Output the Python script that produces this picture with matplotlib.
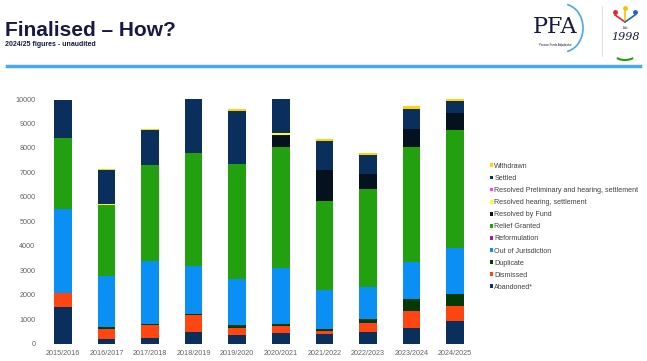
import matplotlib
matplotlib.use("Agg")
import matplotlib.pyplot as plt
import numpy as np
from matplotlib.patches import Arc

plt.rcParams['font.family'] = ['Liberation Sans', 'DejaVu Sans']

years = ["2015/2016", "2016/2017", "2017/2018", "2018/2019", "2019/2020",
         "2020/2021", "2021/2022", "2022/2023", "2023/2024", "2024/2025"]

abandoned   = [1490, 180, 250, 480, 340, 420, 380, 460, 650, 930]
dismissed   = [590, 440, 510, 680, 310, 300, 150, 400, 670, 620]
duplicate   = [0, 50, 50, 70, 110, 80, 60, 130, 510, 470]
out_of_jur  = [3420, 2100, 2570, 1940, 1900, 2280, 1620, 1340, 1490, 1880]
reformul    = [0, 0, 0, 0, 0, 0, 0, 0, 0, 0]
relief      = [2890, 2880, 3910, 4640, 4670, 4940, 3630, 3990, 4730, 4830]
res_fund    = [0, 0, 0, 0, 0, 510, 1240, 630, 710, 710]
res_hearing = [0, 40, 0, 0, 0, 70, 0, 0, 0, 0]
res_prelim  = [0, 0, 0, 0, 0, 0, 0, 0, 0, 0]
settled     = [1560, 1400, 1430, 2180, 2180, 1390, 1200, 760, 830, 480]
withdrawn   = [0, 30, 60, 0, 70, 0, 80, 70, 110, 70]

series = [
    ("Abandoned*", abandoned, "#0a2f5c"),
    ("Dismissed", dismissed, "#ff4512"),
    ("Duplicate", duplicate, "#053a08"),
    ("Out of Jurisdiction", out_of_jur, "#0a8ff5"),
    ("Reformulation", reformul, "#a3218f"),
    ("Relief Granted", relief, "#22a00f"),
    ("Resolved by Fund", res_fund, "#04121f"),
    ("Resolved hearing, settlement", res_hearing, "#ffff1a"),
    ("Resolved Preliminary and hearing, settlement", res_prelim, "#ff3dff"),
    ("Settled", settled, "#0a2f5c"),
    ("Withdrawn", withdrawn, "#ffd500"),
]

W, H = 647, 361
fig = plt.figure(figsize=(W / 100, H / 100), dpi=100)

def fx(px):
    return px / W

def fy(py):
    return 1 - py / H

# axes: x from 41 to 477 px, y 0 at 343.7 px, 10000 at 99 px
ax = fig.add_axes([fx(41), fy(343.7), fx(477) - fx(41), (343.7 - 99) / H])
x = np.arange(len(years))
bottom = np.zeros(len(years))
handles = []
for name, vals, col in series:
    v = np.array(vals, dtype=float)
    b = ax.bar(x, v, bottom=bottom, width=0.40, color=col, label=name, clip_on=False)
    handles.append(b)
    bottom += v

ax.set_xlim(-0.5, len(years) - 0.5)
ax.set_ylim(0, 10000)
ax.set_yticks(np.arange(0, 10001, 1000))
ax.set_yticklabels([str(t) for t in range(0, 10001, 1000)])
ax.set_xticks(x)
ax.set_xticklabels(years)
ax.tick_params(axis='both', length=0, labelsize=5.2, colors="#626262")
ax.tick_params(axis='y', pad=4)
ax.tick_params(axis='x', pad=4.5)
for s in ax.spines.values():
    s.set_visible(False)

leg = fig.legend(handles[::-1], [s[0] for s in series][::-1],
                 loc='upper left', bbox_to_anchor=(fx(487), fy(160)),
                 frameon=False, fontsize=5.1, handlelength=0.45, handleheight=0.45,
                 handletextpad=0.2, labelspacing=0.72, borderaxespad=0)
for t in leg.get_texts():
    t.set_color("#404040")

# Title
fig.text(fx(5), fy(35.5), "Finalised \u2013 How?", fontsize=15, fontweight='bold',
         color="#141a45", va='baseline', ha='left')
fig.text(fx(5), fy(46), "2024/25 figures - unaudited", fontsize=5, fontweight='bold',
         color="#141a45", va='baseline', ha='left')

# blue rule
fig.add_artist(plt.Line2D([fx(7), fx(640)], [fy(66), fy(66)], color="#46a8f5", lw=2.5))

# logo approximation
fig.text(fx(555), fy(27), "PFA", fontsize=16, family='DejaVu Serif', color="#141a45",
         ha='center', va='center', fontweight='light')
fig.text(fx(555), fy(45), "Pension Funds Adjudicator", fontsize=2, color="#141a45",
         ha='center', va='center')
lax = fig.add_axes([0, 0, 1, 1], facecolor='none')
lax.set_xlim(0, W)
lax.set_ylim(H, 0)
lax.axis('off')
lax.add_patch(Arc((563, 28), 40, 48, theta1=-80, theta2=80, color="#46a8f5", lw=1.2))
lax.plot([602, 602], [6, 56], color="#dddddd", lw=0.6)
lax.add_patch(Arc((625, 55), 20, 10, theta1=20, theta2=160, color="#22a00f", lw=1.5))
fig.text(fx(625), fy(37), "1998", fontsize=8, family='DejaVu Serif', style='italic',
         color="#141a45", ha='center', va='center')
fig.text(fx(625), fy(28), "Est.", fontsize=2.5, family='DejaVu Serif', style='italic',
         color="#141a45", ha='center', va='center')
for (cx, cy, c) in [(615, 12, "#e8232a"), (625, 8, "#f5c400"), (635, 12, "#2563c9")]:
    lax.plot([cx, 625], [cy + 3, 22], color=c, lw=1.2)
    lax.plot([cx], [cy], 'o', color=c, ms=2.5)

fig.savefig("out.png", dpi=100)
